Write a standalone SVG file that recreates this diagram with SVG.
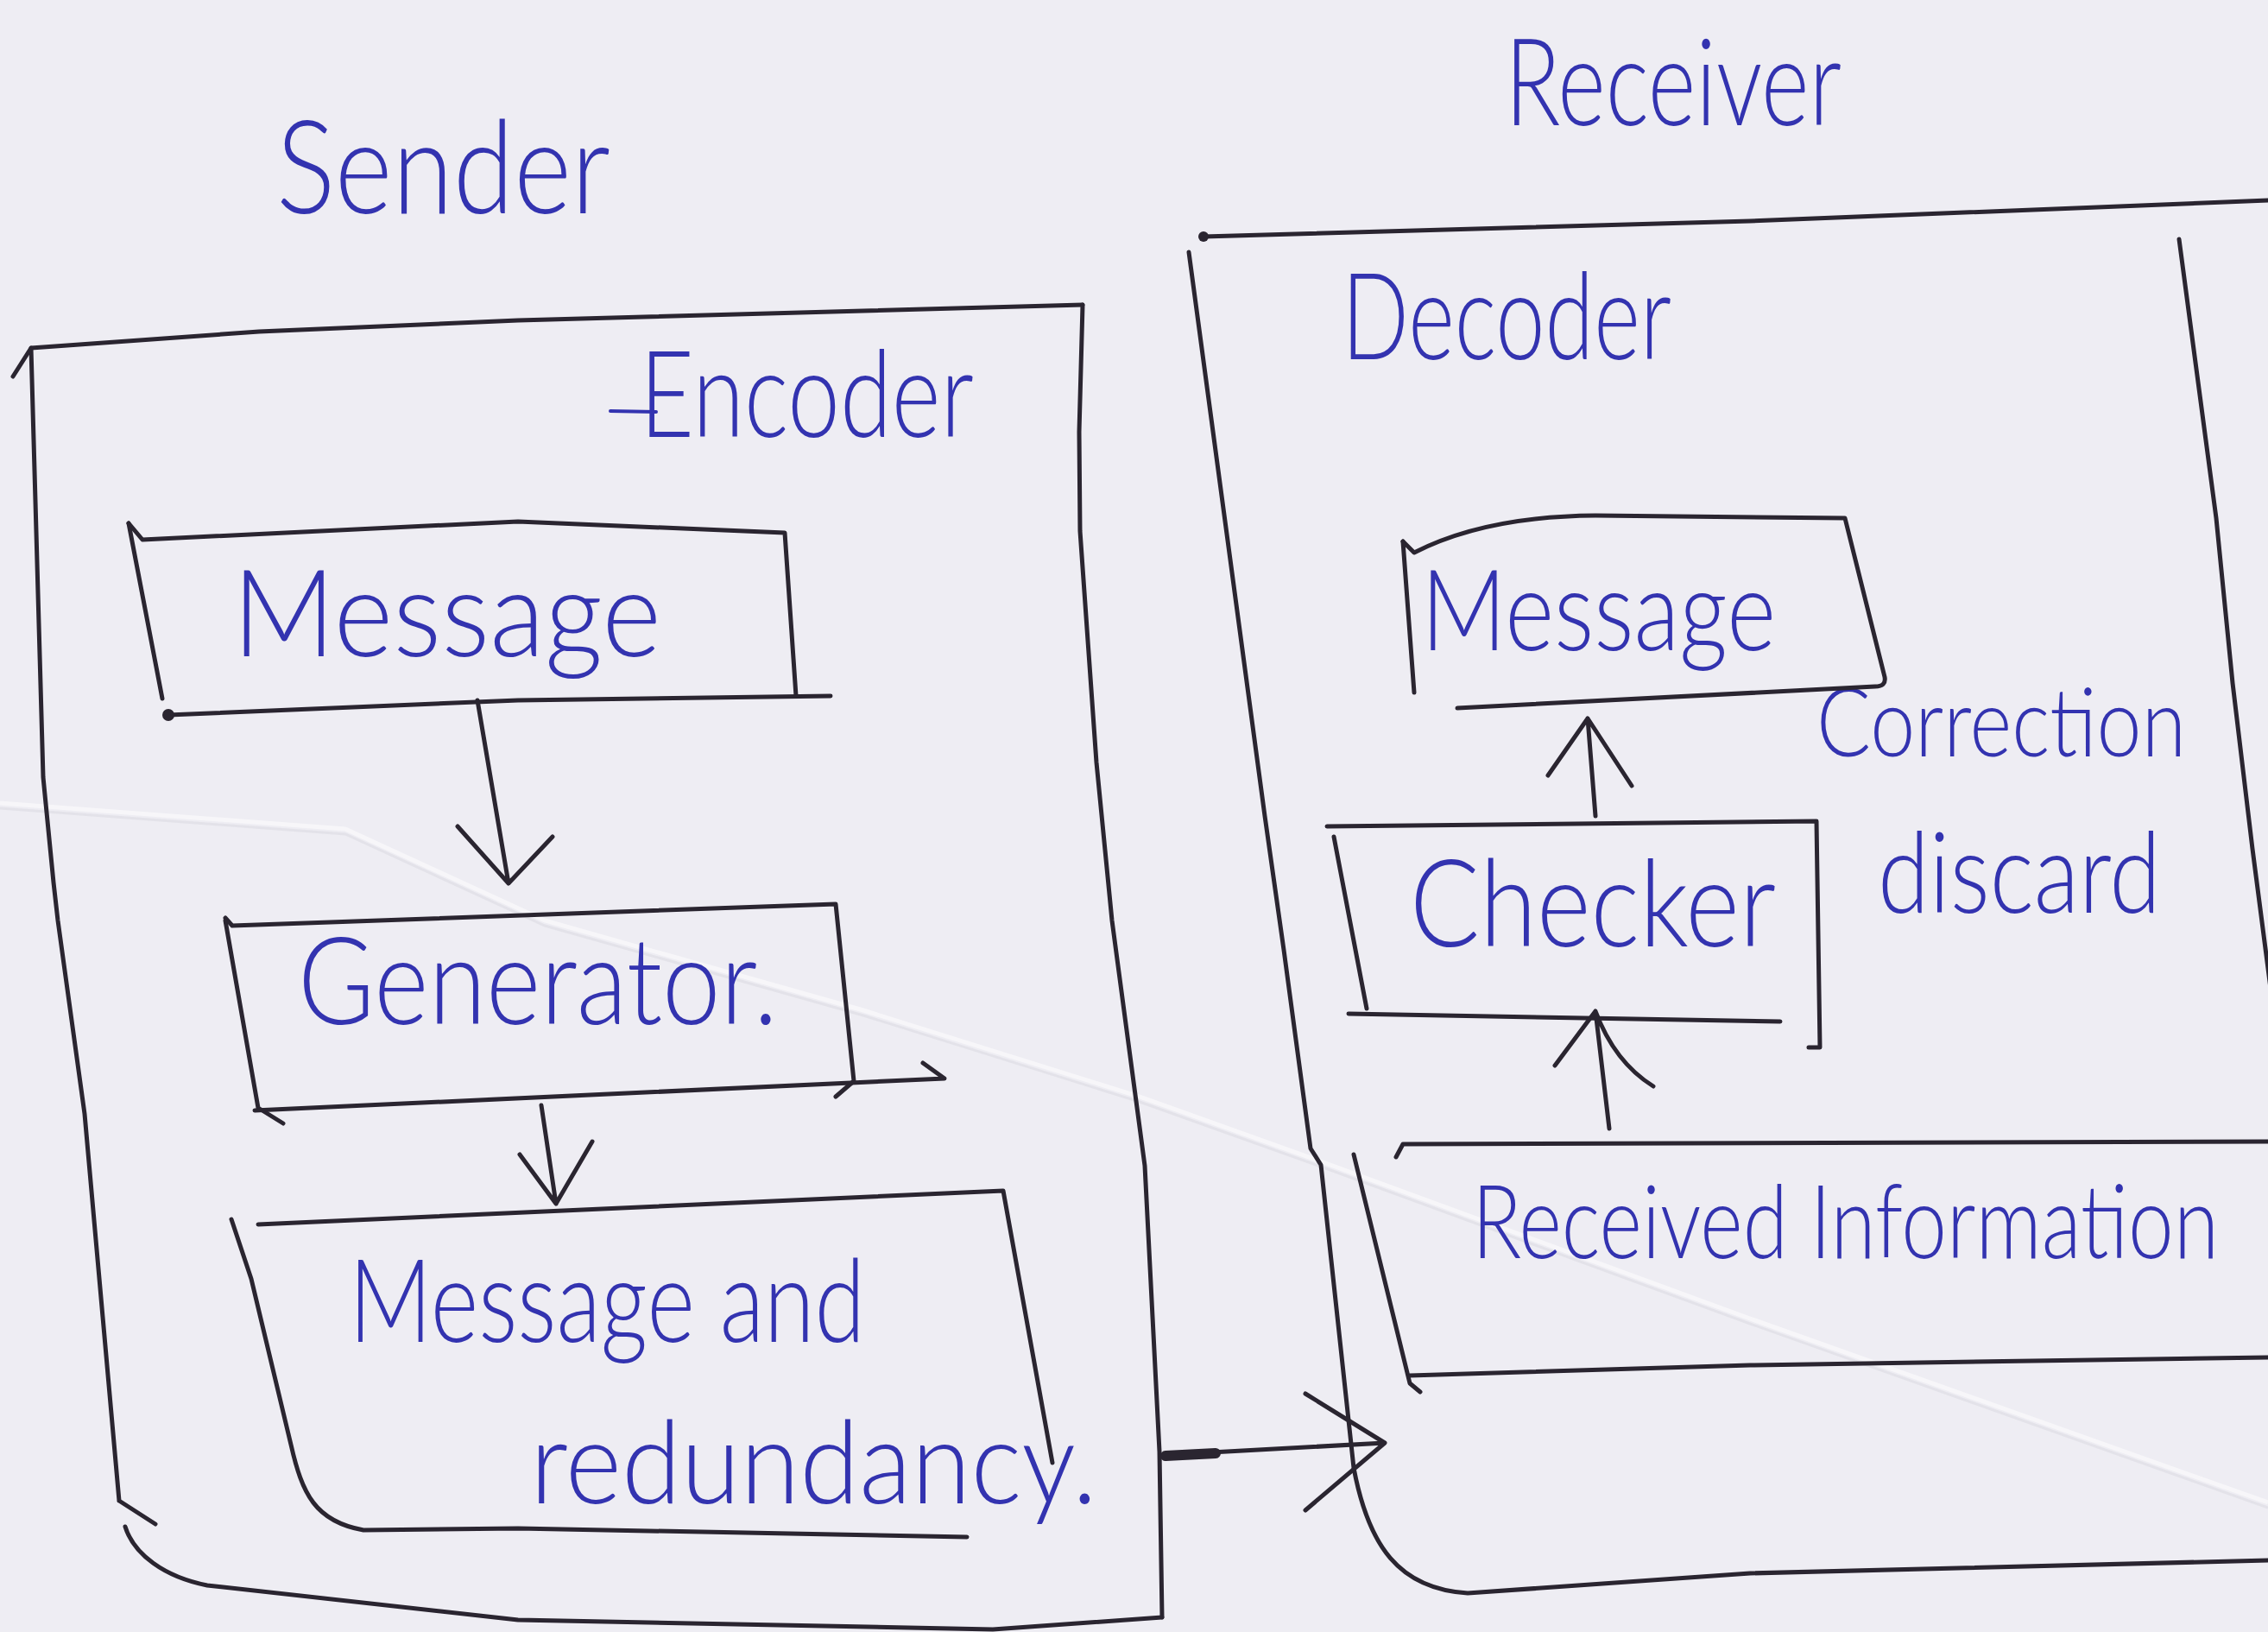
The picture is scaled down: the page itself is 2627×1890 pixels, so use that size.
<svg xmlns="http://www.w3.org/2000/svg" width="2627" height="1890" viewBox="0 0 2627 1890">
  <style>
    .ink { fill: none; stroke: #2a2530; stroke-width: 5; stroke-linecap: round; stroke-linejoin: round; }
    .pen { fill: #3333b0; font-family: Lato, "Open Sans", "DejaVu Sans", sans-serif; font-weight: 300; }
    .crease { fill: none; stroke: #ffffff; stroke-width: 5; stroke-opacity: 0.5; }
    .crease-shade { fill: none; stroke: #b9b8c2; stroke-width: 3; stroke-opacity: 0.2; }
  </style>

  <!-- paper -->
  <rect x="0" y="0" width="2627" height="1890" fill="#eeedf3"/>
  <path class="crease-shade" d="M0,936 L400,966 L631,1072 L1000,1176 L1320,1276 L1530,1351 L2027,1533 L2627,1746"/>
  <path class="crease" d="M0,930 L400,960 L631,1066 L1000,1170 L1320,1270 L1530,1345 L2027,1527 L2627,1740"/>

  <!-- headings -->
  <text class="pen" x="320" y="247" font-size="150" textLength="387" lengthAdjust="spacingAndGlyphs">Sender</text>
  <text class="pen" x="1743" y="145" font-size="140" textLength="390" lengthAdjust="spacingAndGlyphs">Receiver</text>

  <!-- sender / encoder frame -->
  <g id="sender">
    <path class="ink" d="M15,436 L36,403 L300,384 L600,371 L1254,353"/>
    <path class="ink" d="M36,403 L50,900 L62,1022 L67,1066 L98,1290 L138,1738 M138,1738 L180,1765"/>
    <path class="ink" d="M145,1768 C155,1800 190,1826 240,1836 L600,1876 L1150,1887 L1346,1873"/>
    <path class="ink" d="M1254,353 L1250,500 L1251,615 L1270,883 L1288,1066 L1326,1350 L1343,1681 L1346,1873"/>
    <path class="ink" style="stroke:#3333b0;stroke-width:4" d="M707,476 L760,477"/>
    <text class="pen" x="741" y="506" font-size="140" textLength="387" lengthAdjust="spacingAndGlyphs">Encoder</text>
  </g>

  <g id="sender-message">
    <path class="ink" d="M149,606 L165,625 L600,604 L909,617 L922,806"/>
    <path class="ink" d="M149,606 L188,809"/>
    <path class="ink" d="M195,828 L600,811 L962,806"/>
    <circle cx="195" cy="828" r="7" fill="#2a2530"/>
    <text class="pen" x="269" y="760" font-size="140" textLength="497" lengthAdjust="spacingAndGlyphs">Message</text>
  </g>

  <g id="generator">
    <path class="ink" d="M261,1063 L269,1072 L968,1047 L989,1252 L968,1270"/>
    <path class="ink" d="M261,1066 L299,1283 L328,1301"/>
    <path class="ink" d="M295,1286 L1094,1249 L1069,1231"/>
    <text class="pen" x="345" y="1186" font-size="140" textLength="556" lengthAdjust="spacingAndGlyphs">Generator.</text>
  </g>

  <g id="message-redundancy">
    <path class="ink" d="M299,1418 L1162,1379 L1219,1694"/>
    <path class="ink" d="M268,1412 L291,1481 L337,1673 C350,1730 365,1762 421,1772 L600,1770 L1120,1780"/>
    <text class="pen" x="404" y="1554" font-size="135" textLength="598" lengthAdjust="spacingAndGlyphs">Message and</text>
    <text class="pen" x="614" y="1741" font-size="135" textLength="657" lengthAdjust="spacingAndGlyphs">redundancy.</text>
  </g>

  <!-- receiver / decoder frame -->
  <g id="receiver">
    <path class="ink" d="M1394,274 L2027,256 L2627,232"/>
    <circle cx="1394" cy="274" r="6" fill="#2a2530"/>
    <path class="ink" d="M1377,292 L1465,945 L1487,1100 L1518,1330 L1530,1349 L1568,1700 C1585,1790 1620,1840 1700,1845 L2027,1822 L2627,1807"/>
    <path class="ink" d="M2524,277 L2567,600 L2586,791 L2609,983 L2632,1160"/>
    <text class="pen" x="1554" y="416" font-size="140" textLength="382" lengthAdjust="spacingAndGlyphs">Decoder</text>
    <text class="pen" x="2104" y="876" font-size="110" textLength="428" lengthAdjust="spacingAndGlyphs">Correction</text>
    <text class="pen" x="2175" y="1057" font-size="130" textLength="328" lengthAdjust="spacingAndGlyphs">discard</text>
  </g>

  <g id="receiver-message">
    <path class="ink" d="M1625,627 L1638,640 Q1720,598 1848,597 L2137,600 L2183,784 Q2185,795 2172,795 L1688,820"/>
    <path class="ink" d="M1625,627 L1638,802"/>
    <text class="pen" x="1646" y="753" font-size="130" textLength="411" lengthAdjust="spacingAndGlyphs">Message</text>
  </g>

  <g id="checker">
    <path class="ink" d="M1537,957 L2104,951 L2108,1213 L2095,1213"/>
    <path class="ink" d="M1545,969 L1583,1168"/>
    <path class="ink" d="M1562,1174 L2062,1183"/>
    <text class="pen" x="1633" y="1096" font-size="140" textLength="424" lengthAdjust="spacingAndGlyphs">Checker</text>
  </g>

  <g id="received-information">
    <path class="ink" d="M1617,1340 L1625,1325 L2627,1322"/>
    <path class="ink" d="M1568,1337 L1633,1602 L1645,1612"/>
    <path class="ink" d="M1633,1593 L2027,1581 L2627,1572"/>
    <text class="pen" x="1705" y="1457" font-size="118" textLength="865" lengthAdjust="spacingAndGlyphs">Received Information</text>
  </g>

  <!-- arrows between blocks -->
  <g id="connectors">
    <path class="ink" d="M553,811 L589,1023 M530,957 L589,1023 L640,969"/>
    <path class="ink" d="M627,1280 L644,1394 M602,1337 L644,1394 L686,1322"/>
    <path class="ink" d="M1348,1685 L1604,1671 M1512,1614 L1604,1671 L1512,1749"/>
    <path class="ink" style="stroke-width:12" d="M1350,1686 L1408,1683"/>
    <path class="ink" d="M1864,1307 L1848,1171 M1801,1234 L1848,1171 Q1870,1230 1915,1258"/>
    <path class="ink" d="M1848,945 L1839,832 M1793,898 L1839,832 L1890,910"/>
  </g>
</svg>
